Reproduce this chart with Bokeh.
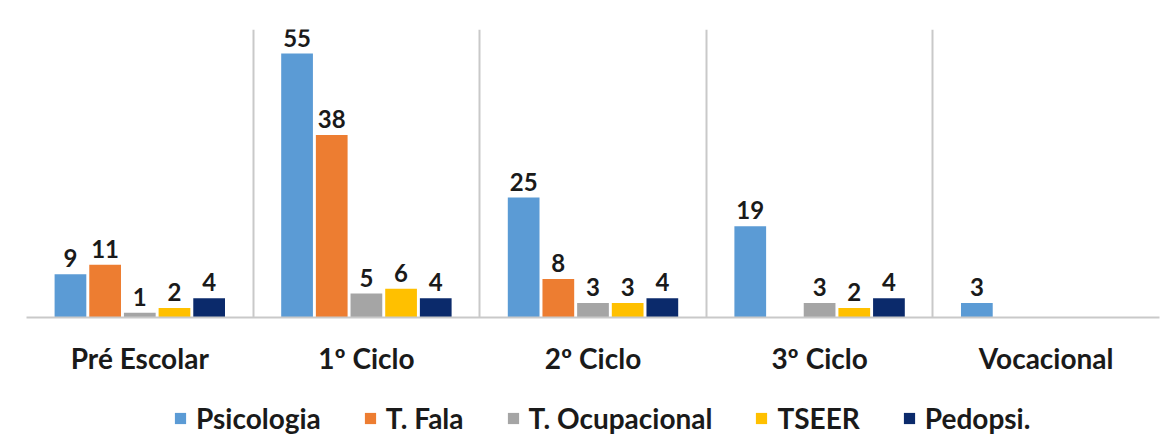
from bokeh.plotting import figure
from bokeh.models import ColumnDataSource, FixedTicker, Legend, LegendItem, LabelSet
from bokeh.layouts import column
from bokeh.core.properties import value
from bokeh.embed import file_html
from bokeh.resources import INLINE

categories = ["Pré Escolar", "1º Ciclo", "2º Ciclo", "3º Ciclo", "Vocacional"]
series = ["Psicologia", "T. Fala", "T. Ocupacional", "TSEER", "Pedopsi."]
psicologia = [9, 55, 25, 19, 3]
t_fala = [11, 38, 8, None, None]
t_ocupacional = [1, 5, 3, 3, None]
tseer = [2, 6, 3, 2, None]
pedopsi = [4, 4, 4, 4, None]
values = [psicologia, t_fala, t_ocupacional, tseer, pedopsi]
colors = ["#5B9BD5", "#ED7D31", "#A5A5A5", "#FFC000", "#0B2A6B"]

FONT = "Lato"
TXT = "#1a1a1a"

p = figure(frame_width=1133, frame_height=288, x_range=(0, len(categories)), y_range=(0, 60),
           output_backend="svg", toolbar_location=None, y_axis_location=None,
           min_border_left=26, min_border_right=4, min_border_top=29, min_border_bottom=0,
           outline_line_color=None, background_fill_color="white", border_fill_color="white")

# legend strip below the chart (shows only the legend; its y range lies far above the bars)
lf = figure(width=1163, height=67, x_range=(0, len(categories)), y_range=(1000, 1001),
            output_backend="svg", toolbar_location=None,
            x_axis_location=None, y_axis_location=None,
            min_border_left=0, min_border_right=0, min_border_top=0, min_border_bottom=0,
            outline_line_color=None, background_fill_color="white", border_fill_color="white")
lf.xgrid.grid_line_color = None
lf.ygrid.grid_line_color = None

step = 0.153
width = 0.14
items = []
for j, (name, vals, col) in enumerate(zip(series, values, colors)):
    xs, tops, labs = [], [], []
    for i, v in enumerate(vals):
        if v is None:
            continue
        xs.append(i + 0.5 + (j - 2) * step)
        tops.append(v)
        labs.append(str(v))
    src = ColumnDataSource(dict(x=xs, top=tops, lab=labs))
    p.vbar(x="x", top="top", width=width, bottom=0, source=src,
           fill_color=col, line_color=None)
    p.add_layout(LabelSet(x="x", y="top", text="lab", source=src, text_align="center",
                          text_baseline="bottom", y_offset=7, text_font=value(FONT),
                          text_font_style="bold", text_font_size="24px", text_color=TXT))
    proxy = lf.vbar(x="x", top="top", width=width, bottom=0, source=src,
                    fill_color=col, line_color=None)
    items.append(LegendItem(label=name, renderers=[proxy]))

p.xgrid.ticker = FixedTicker(ticks=list(range(len(categories) + 1)))
p.xgrid.grid_line_color = "#c9c9c9"
p.xgrid.grid_line_width = 2
p.ygrid.grid_line_color = None

p.xaxis.ticker = FixedTicker(ticks=[i + 0.5 for i in range(len(categories))])
p.xaxis.major_label_overrides = {i + 0.5: c for i, c in enumerate(categories)}
p.xaxis.axis_line_color = "#c9c9c9"
p.xaxis.axis_line_width = 2
p.xaxis.major_tick_line_color = None
p.xaxis.minor_tick_line_color = None
p.xaxis.major_label_standoff = 17
p.xaxis.major_label_text_font = FONT
p.xaxis.major_label_text_font_style = "bold"
p.xaxis.major_label_text_font_size = "28px"
p.xaxis.major_label_text_color = TXT

legend = Legend(items=items, orientation="horizontal", location=(147, 9),
                label_text_font=FONT, label_text_font_style="bold", label_text_font_size="28px",
                label_text_color=TXT, glyph_width=14, glyph_height=14, label_standoff=9,
                spacing=42, padding=2, margin=0, border_line_color=None,
                background_fill_alpha=0)
lf.add_layout(legend, "center")

layout = column(p, lf, spacing=0)
open("out.html", "w").write(file_html(layout, INLINE))
